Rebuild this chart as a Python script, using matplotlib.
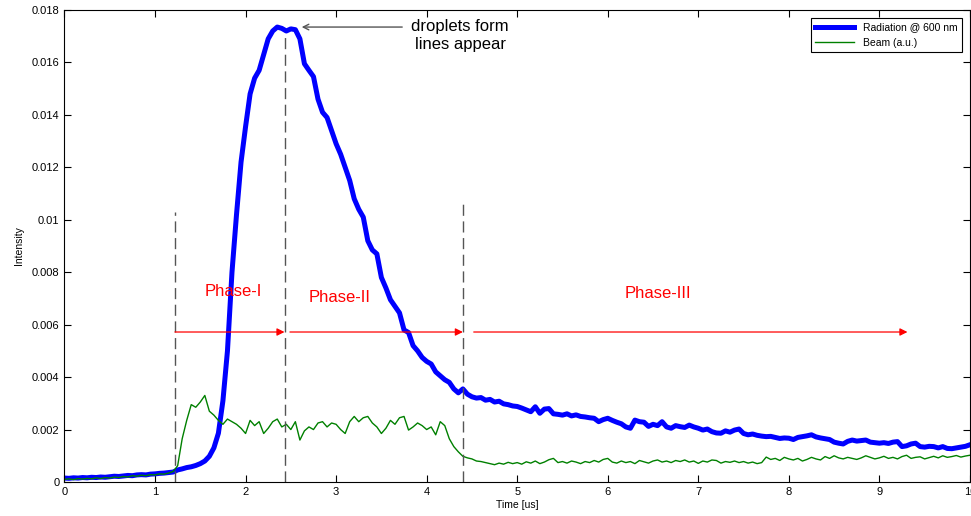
import numpy as np
import matplotlib.pyplot as plt
from matplotlib.ticker import FuncFormatter

t = np.arange(201) * 0.05

radiation = [
    0.15, 0.14, 0.16, 0.15, 0.17, 0.16, 0.18, 0.17, 0.19, 0.18,
    0.20, 0.22, 0.21, 0.23, 0.25, 0.24, 0.27, 0.28, 0.27, 0.30,
    0.31, 0.33, 0.34, 0.36, 0.38, 0.46, 0.50, 0.55, 0.58, 0.63,
    0.70, 0.80, 0.98, 1.30, 1.86, 3.10, 5.00, 8.00, 10.2, 12.2,
    13.55, 14.8, 15.4, 15.7, 16.3, 16.9, 17.2, 17.35, 17.3, 17.2,
    17.28, 17.25, 16.9, 15.95, 15.7, 15.46, 14.6, 14.1, 13.9, 13.4,
    12.9, 12.5, 12.0, 11.5, 10.8, 10.4, 10.1, 9.2, 8.85, 8.7,
    7.8, 7.4, 6.95, 6.7, 6.45, 5.8, 5.7, 5.2, 5.0, 4.75,
    4.6, 4.5, 4.2, 4.05, 3.9, 3.8, 3.55, 3.4, 3.55, 3.35,
    3.25, 3.2, 3.22, 3.12, 3.15, 3.05, 3.08, 2.98, 2.95, 2.9,
    2.88, 2.82, 2.75, 2.68, 2.87, 2.62, 2.78, 2.8, 2.6, 2.58,
    2.55, 2.6, 2.52, 2.56, 2.5, 2.48, 2.45, 2.43, 2.3, 2.38,
    2.43, 2.35, 2.28, 2.22, 2.1, 2.05, 2.36, 2.3, 2.28, 2.12,
    2.2, 2.15, 2.3, 2.1, 2.05, 2.15, 2.11, 2.08, 2.17, 2.1,
    2.05, 1.98, 2.02, 1.92, 1.87, 1.86, 1.95, 1.9, 1.98, 2.02,
    1.85, 1.8, 1.83, 1.78, 1.75, 1.73, 1.74, 1.7, 1.66, 1.68,
    1.67, 1.62, 1.7, 1.73, 1.76, 1.8, 1.72, 1.68, 1.65, 1.62,
    1.52, 1.48, 1.45, 1.55, 1.6, 1.56, 1.58, 1.6, 1.52, 1.5,
    1.48, 1.5, 1.47, 1.52, 1.54, 1.35, 1.38, 1.45, 1.48, 1.35,
    1.33, 1.36, 1.35, 1.3, 1.35, 1.28, 1.27, 1.3, 1.33, 1.36,
    1.42,
]

beam = [
    0.10, 0.12, 0.09, 0.13, 0.11, 0.14, 0.12, 0.16, 0.13, 0.17,
    0.15, 0.19, 0.17, 0.21, 0.19, 0.24, 0.22, 0.26, 0.24, 0.28,
    0.27, 0.31, 0.30, 0.34, 0.40, 0.62, 1.65, 2.35, 2.95, 2.85,
    3.05, 3.30, 2.7, 2.55, 2.35, 2.2, 2.4, 2.3, 2.2, 2.05,
    1.85, 2.35, 2.15, 2.3, 1.85, 2.05, 2.3, 2.4, 2.1, 2.2,
    2.0, 2.3, 1.6, 1.95, 2.1, 2.0, 2.25, 2.3, 2.1, 2.25,
    2.2, 2.0, 1.85, 2.3, 2.5, 2.3, 2.45, 2.5, 2.25, 2.1,
    1.85, 2.05, 2.35, 2.2, 2.45, 2.5, 1.98, 2.1, 2.25, 2.15,
    2.0, 2.1, 1.8, 2.3, 2.15, 1.65, 1.35, 1.15, 0.98, 0.92,
    0.88, 0.8, 0.78, 0.74, 0.7, 0.66, 0.72, 0.68, 0.75, 0.7,
    0.74, 0.68, 0.77, 0.72, 0.8, 0.7, 0.76, 0.85, 0.9, 0.74,
    0.78, 0.72, 0.8, 0.76, 0.7, 0.78, 0.74, 0.82, 0.76, 0.86,
    0.9, 0.76, 0.72, 0.8, 0.74, 0.78, 0.7, 0.82, 0.77, 0.72,
    0.8, 0.84, 0.76, 0.8, 0.74, 0.82, 0.78, 0.84, 0.76, 0.8,
    0.71, 0.8, 0.76, 0.84, 0.82, 0.72, 0.78, 0.75, 0.8, 0.74,
    0.78, 0.72, 0.76, 0.7, 0.74, 0.95, 0.86, 0.9, 0.82, 0.94,
    0.88, 0.84, 0.9, 0.8, 0.86, 0.94, 0.88, 0.84, 0.97, 0.9,
    1.0, 0.92, 0.88, 0.94, 0.9, 0.86, 0.92, 1.0, 0.94, 0.88,
    0.92, 0.98, 0.9, 0.94, 0.88, 0.97, 1.02, 0.9, 0.94, 0.96,
    0.88, 0.93, 0.98, 0.92, 1.0, 0.94, 0.97, 1.01, 0.95, 0.99,
    1.02,
]

# phase boundaries (us) and dashed line heights
bounds = [1.22, 2.43, 4.40]
bound_tops = [0.0103, 0.0171, 0.01075]
phase_names = ['Phase-I', 'Phase-II', 'Phase-III']
phase_x = [1.86, 3.04, 6.55]
phase_y = [0.00728, 0.00705, 0.0072]
arrows = [(1.22, 2.43), (2.49, 4.40), (4.52, 9.31)]
arrow_y = 0.00572

plt.rcParams['font.family'] = ['Liberation Sans', 'DejaVu Sans']

fig = plt.figure(figsize=(9.71, 5.16), dpi=100)
ax = fig.add_axes([0.0664, 0.0659, 0.9325, 0.9147])

ax.plot(t, np.array(radiation) * 1e-3, color='#0000ff', lw=3.6, label='Radiation @ 600 nm')
ax.plot(t, np.array(beam) * 1e-3, color='#008000', lw=1.0, label='Beam (a.u.)')

for b, top in zip(bounds, bound_tops):
    ax.plot([b, b], [0, top], color='#555555', lw=1.0, dashes=(8, 4))

for (x0, x1) in arrows:
    ax.annotate('', xy=(x1, arrow_y), xytext=(x0, arrow_y),
                arrowprops=dict(arrowstyle='-|>', color='red', lw=0.9,
                                mutation_scale=11, shrinkA=0, shrinkB=0))

for name, x, y in zip(phase_names, phase_x, phase_y):
    ax.text(x, y, name, color='red', fontsize=12, ha='center', va='center')

ax.annotate('', xy=(2.62, 0.01735), xytext=(3.73, 0.01735),
            arrowprops=dict(arrowstyle='->', color='#555555', lw=1.0,
                            shrinkA=0, shrinkB=0))
ax.text(4.37, 0.01702, 'droplets form\nlines appear', fontsize=12,
        ha='center', va='center', linespacing=1.25)

ax.set_xlim(0, 10)
ax.set_ylim(0, 0.018)
ax.set_xticks(range(11))
ax.set_yticks(np.arange(0, 0.0181, 0.002))
ax.yaxis.set_major_formatter(FuncFormatter(lambda v, p: '%g' % round(v, 4)))
ax.tick_params(direction='in', top=True, right=True, labelsize=8, length=5)
ax.set_xlabel('Time [us]', fontsize=7.5, labelpad=2)
ax.set_ylabel('Intensity', fontsize=7.5, labelpad=6)

leg = ax.legend(loc='upper right', fontsize=7.5, fancybox=False, framealpha=1,
                edgecolor='black', handlelength=3.8, borderaxespad=0.8)
leg.get_frame().set_linewidth(0.8)

fig.savefig('out.png', dpi=100)
